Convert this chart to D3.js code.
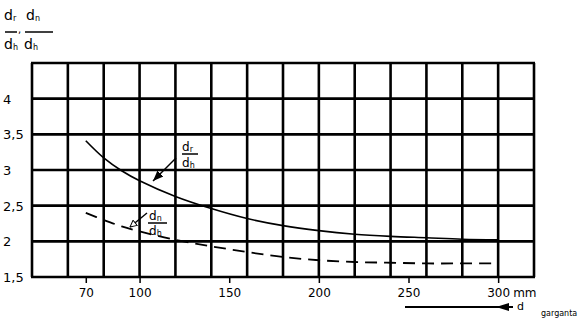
<!DOCTYPE html>
<html><head><meta charset="utf-8">
<script src="https://cdn.jsdelivr.net/npm/d3@7"></script>
<style>body{margin:0;background:#fff}svg{display:block}text{font-family:"DejaVu Sans",sans-serif;fill:#000}</style>
</head><body><svg id="c" width="585" height="318"></svg>
<script>
const diam = [70,80,90,100,120,140,160,180,200,220,240,260,280,300];
const ratioR = [3.41,3.17,2.99,2.85,2.63,2.46,2.32,2.22,2.15,2.10,2.07,2.05,2.03,2.02];
const ratioN = [2.40,2.30,2.21,2.14,2.02,1.93,1.85,1.78,1.735,1.71,1.70,1.69,1.69,1.69];
const xTicks = [70,100,150,200,250,300];
const xTickLabels = ["70","100","150","200","250","300"];
const yTicks = [1.5,2,2.5,3,3.5,4];
const yTickLabels = ["1,5","2","2,5","3","3,5","4"];

const svg = d3.select("#c");
const x = d3.scaleLinear().domain([40,320]).range([32,534]);
const y = d3.scaleLinear().domain([1.5,4.5]).range([277,63]);

// grid
const g = svg.append("g").attr("stroke","#000").attr("stroke-width",2.6);
g.selectAll("line.v").data(d3.range(40,321,20)).join("line")
  .attr("x1",d=>x(d)).attr("x2",d=>x(d)).attr("y1",y(4.5)).attr("y2",y(1.5));
g.selectAll("line.h").data(d3.range(1.5,4.51,0.5)).join("line")
  .attr("x1",x(40)-1).attr("x2",x(320)+1).attr("y1",d=>y(d)).attr("y2",d=>y(d));

// x axis ticks
const ax = svg.append("g").attr("transform",`translate(0,${y(1.5)})`)
  .call(d3.axisBottom(x).tickValues(xTicks).tickSize(6).tickPadding(5)
    .tickFormat((d,i)=>xTickLabels[i]));
ax.select(".domain").remove();
ax.selectAll(".tick line").attr("stroke","#000").attr("stroke-width",1.5);
ax.selectAll(".tick text").attr("font-size",12).attr("font-family","DejaVu Sans, sans-serif").attr("fill","#000");
svg.append("text").attr("x",x(300)+15).attr("y",297).attr("font-size",12).text("mm");

// y labels
svg.selectAll("text.yl").data(yTicks).join("text").attr("class","yl")
  .attr("x",3).attr("y",d=>y(d)+5).attr("font-size",13).text((d,i)=>yTickLabels[i]);

// curves
const line = d3.line().x((d,i)=>x(diam[i])).y(d=>y(d)).curve(d3.curveCatmullRom);
svg.append("path").datum(ratioR).attr("d",line).attr("fill","none").attr("stroke","#000").attr("stroke-width",1.6);
svg.append("path").datum(ratioN).attr("d",line).attr("fill","none").attr("stroke","#000").attr("stroke-width",1.8).attr("stroke-dasharray","12,7");

// markers
const defs = svg.append("defs");
defs.append("marker").attr("id","af").attr("viewBox","0 0 10 10").attr("refX",10).attr("refY",5)
  .attr("markerWidth",7).attr("markerHeight",7).attr("orient","auto")
  .append("path").attr("d","M0,1 L10,5 L0,9 Z").attr("fill","#000");
defs.append("marker").attr("id","ao").attr("viewBox","0 0 12 12").attr("refX",11).attr("refY",6)
  .attr("markerWidth",8).attr("markerHeight",8).attr("orient","auto").attr("markerUnits","userSpaceOnUse")
  .append("path").attr("d","M1,1 L11,6 L1,11 Z").attr("fill","#fff").attr("stroke","#000").attr("stroke-width",1.4);

function dsub(px,py,sub,fs,ss){
  const t = svg.append("text").attr("x",px).attr("y",py).attr("font-size",fs);
  t.append("tspan").text("d");
  t.append("tspan").attr("font-size",ss).attr("dy",1).text(sub);
}
function bar(x1,x2,yy){
  svg.append("line").attr("x1",x1).attr("x2",x2).attr("y1",yy).attr("y2",yy).attr("stroke","#000").attr("stroke-width",1.5);
}

// top-left axis label
dsub(4,20,"r",14,8); dsub(26,20,"n",14,8);
bar(5,17,32); bar(25,53,32);
svg.append("text").attr("x",18).attr("y",33).attr("font-size",10).text(",");
dsub(4,49,"h",14,8); dsub(24,49,"h",14,8);

// annotation dr/dh
dsub(182,151,"r",12,8); bar(182,198,154); dsub(182,167,"h",12,8);
svg.append("line").attr("x1",176).attr("y1",158).attr("x2",153).attr("y2",181)
  .attr("stroke","#000").attr("stroke-width",1.5).attr("marker-end","url(#af)");

// annotation dn/dh
dsub(149,220,"n",12,8); bar(148,167,223); dsub(149,235,"h",12,8);
svg.append("line").attr("x1",147).attr("y1",213).attr("x2",130).attr("y2",227)
  .attr("stroke","#000").attr("stroke-width",1.4).attr("marker-end","url(#ao)");

// bottom arrow and label
svg.append("line").attr("x1",405).attr("x2",513).attr("y1",307).attr("y2",307).attr("stroke","#000").attr("stroke-width",2);
svg.append("path").attr("d",`M496,307 L509,303 L509,311 Z`).attr("fill","#000");
svg.append("text").attr("x",517).attr("y",310).attr("font-size",11).text("d");
svg.append("text").attr("x",541).attr("y",316).attr("font-size",8).text("garganta");
</script></body></html>
